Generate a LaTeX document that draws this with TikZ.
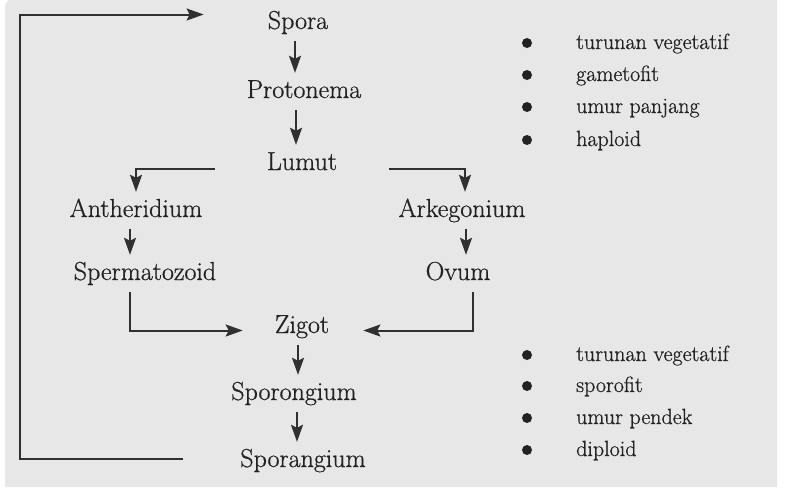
\documentclass[tikz,border=0pt]{standalone}
\usepackage{fontspec}
\usetikzlibrary{arrows.meta,calc}
\newfontfamily\lblfont{Latin Modern Roman}[FakeBold=0.7]
\definecolor{panel}{HTML}{E7E7E7}
\definecolor{ink}{HTML}{222222}
\definecolor{wire}{HTML}{303030}
\tikzset{
  lbl/.style={anchor=base, inner xsep=0pt, inner ysep=7pt, text height=18pt, text depth=5pt,
    font=\lblfont\fontsize{26}{30}\selectfont, text=ink},
  item/.style={anchor=base west, inner sep=0pt, font=\lblfont\fontsize{22}{26}\selectfont, text=ink},
  bul/.style={circle, fill=ink, minimum size=10pt, inner sep=0pt},
  arr/.style={draw=wire, line width=2pt, -{Stealth[length=17pt,width=12pt,inset=3pt]}}
}
\begin{document}
\begin{tikzpicture}[x=1pt,y=-1pt]
\useasboundingbox (0,0) rectangle (785,496);
\fill[white] (0,0) rectangle (785,496);
\fill[panel] (5,487) -- (5,8) [rounded corners=8pt] -- (5,-1) [sharp corners] -- (777,-1) -- (777,487) -- cycle;

% main column
\node[lbl] (spora) at (298,29) {Spora};
\node[lbl] (proto) at (304,98) {Protonema};
\node[lbl] (lumut) at (302,170) {Lumut};
\node[lbl] (anth) at (136,217) {Antheridium};
\node[lbl] (ark) at (462,217) {Arkegonium};
\node[lbl] (sperm) at (145,280) {Spermatozoid};
\node[lbl] (ovum) at (458,280) {Ovum};
\node[lbl] (zigot) at (302,333) {Zigot};
\node[lbl] (sporong) at (294,400) {Sporongium};
\node[lbl] (sporang) at (303,467) {Sporangium};

\coordinate (loopx) at (20,250);

% vertical arrows
\draw[arr] ([xshift=-3pt]spora.south) -- ([xshift=-3pt]spora.south |- proto.north);
\draw[arr] ([xshift=-8pt]proto.south) -- ([xshift=-8pt]proto.south |- lumut.north);
\draw[arr] ([xshift=-6pt]anth.south) -- ([xshift=-6pt]anth.south |- sperm.north);
\draw[arr] ([xshift=4pt]ark.south) -- ([xshift=4pt]ark.south |- ovum.north);
\draw[arr] ([xshift=-4pt]zigot.south) -- ([xshift=-4pt]zigot.south |- sporong.north);
\draw[arr] ([xshift=3pt]sporong.south) -- ([xshift=3pt]sporong.south |- sporang.north);

% branches from Lumut
\draw[arr] ([xshift=-52pt,yshift=-5pt]lumut.west) -| (anth.north);
\draw[arr] ([xshift=52pt,yshift=-5pt]lumut.east) -| ([xshift=3pt]ark.north);

% into Zigot
\draw[arr] ([xshift=-15pt]sperm.south) |- ([xshift=-32pt,yshift=-4pt]zigot.west);
\draw[arr] ([xshift=15pt]ovum.south) |- ([xshift=34pt,yshift=-4pt]zigot.east);

% loop back to Spora
\draw[arr] ([xshift=-57pt,yshift=2pt]sporang.west) -| (loopx) |- ([xshift=-64pt,yshift=8pt]spora.west);

% lists
\node[bul] (b1) at (527,43) {};
\node[bul] (b2) at (527,75) {};
\node[bul] (b3) at (527,107) {};
\node[bul] (b4) at (527,140) {};
\node[item] (t1) at (576,49) {turunan vegetatif};
\node[item] (t2) at (576,81) {gametofit};
\node[item] (t3) at (576,113) {umur panjang};
\node[item] (t4) at (576,146) {haploid};

\node[bul] (c1) at (527,355) {};
\node[bul] (c2) at (527,386) {};
\node[bul] (c3) at (527,418) {};
\node[bul] (c4) at (527,450) {};
\node[item] (s1) at (576,361) {turunan vegetatif};
\node[item] (s2) at (576,392) {sporofit};
\node[item] (s3) at (576,424) {umur pendek};
\node[item] (s4) at (576,456) {diploid};
\end{tikzpicture}
\end{document}
